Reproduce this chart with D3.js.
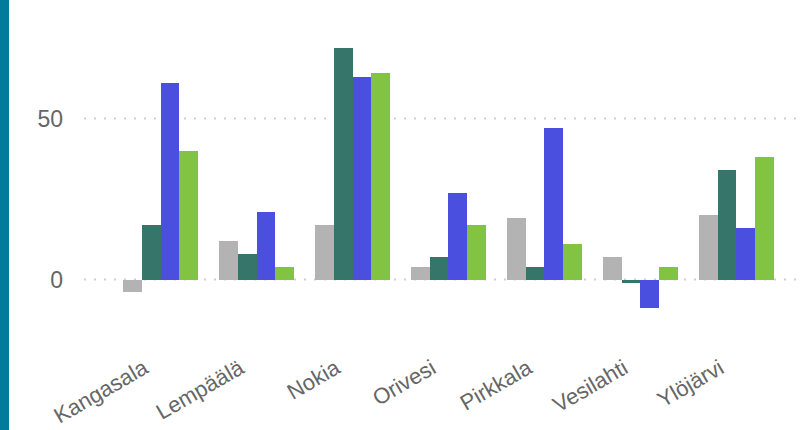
<!DOCTYPE html>
<html>
<head>
<meta charset="utf-8">
<script src="https://cdn.jsdelivr.net/npm/d3@7"></script>
<style>
  html, body { margin: 0; padding: 0; background: #fff; }
  svg { display: block; }
</style>
</head>
<body>
<svg id="chart" width="801" height="430"></svg>
<script>
const categories = ["Kangasala", "Lempäälä", "Nokia", "Orivesi", "Pirkkala", "Vesilahti", "Ylöjärvi"];
const seriesNames = ["s1", "s2", "s3", "s4"];
const s1 = [-4, 12, 17, 4, 19, 7, 20];
const s2 = [17, 8, 72, 7, 4, -1, 34];
const s3 = [61, 21, 63, 27, 47, -9, 16];
const s4 = [40, 4, 64, 17, 11, 4, 38];
const seriesValues = [s1, s2, s3, s4];
const seriesColors = ["#b3b3b3", "#36766a", "#4b4fe0", "#82c341"];
const yTicks = [0, 50];

const svg = d3.select("#chart");
const font = "'Liberation Sans', Arial, sans-serif";

// left accent bar
svg.append("rect").attr("x", 0).attr("y", 0).attr("width", 9).attr("height", 430).attr("fill", "#007b9a");

const x = d3.scaleBand().domain(categories).range([102, 795]).paddingInner(0.22).paddingOuter(0.22);
const x1 = d3.scaleBand().domain(seriesNames).range([0, x.bandwidth()]);
const y = d3.scaleLinear().domain([-10, 80]).range([311.7, 21.9]);

// gridlines
svg.append("g").selectAll("line").data(yTicks).join("line")
  .attr("x1", 84).attr("x2", 797)
  .attr("y1", d => y(d)).attr("y2", d => y(d))
  .attr("stroke", "#cfcfcf").attr("stroke-width", 2)
  .attr("stroke-dasharray", "2,8");

// y tick labels
svg.append("g").selectAll("text").data(yTicks).join("text")
  .attr("x", 63).attr("y", d => y(d))
  .attr("text-anchor", "end").attr("dominant-baseline", "central")
  .attr("font-family", font).attr("font-size", 23).attr("fill", "#666")
  .text(d => d);

// bars
const groups = svg.append("g").selectAll("g").data(categories).join("g")
  .attr("transform", d => `translate(${x(d)},0)`);
groups.selectAll("rect")
  .data((c, i) => seriesNames.map((s, j) => ({ s, v: seriesValues[j][i], color: seriesColors[j] })))
  .join("rect")
  .attr("x", d => x1(d.s))
  .attr("width", x1.bandwidth())
  .attr("y", d => y(Math.max(0, d.v)))
  .attr("height", d => Math.abs(y(d.v) - y(0)))
  .attr("fill", d => d.color)
  .attr("shape-rendering", "crispEdges");

// category labels
svg.append("g").selectAll("text").data(categories).join("text")
  .attr("transform", d => `translate(${x(d) + x.bandwidth() / 2 - 11},372) rotate(-30)`)
  .attr("text-anchor", "end")
  .attr("font-family", font).attr("font-size", 22).attr("fill", "#666")
  .text(d => d);
</script>
</body>
</html>
